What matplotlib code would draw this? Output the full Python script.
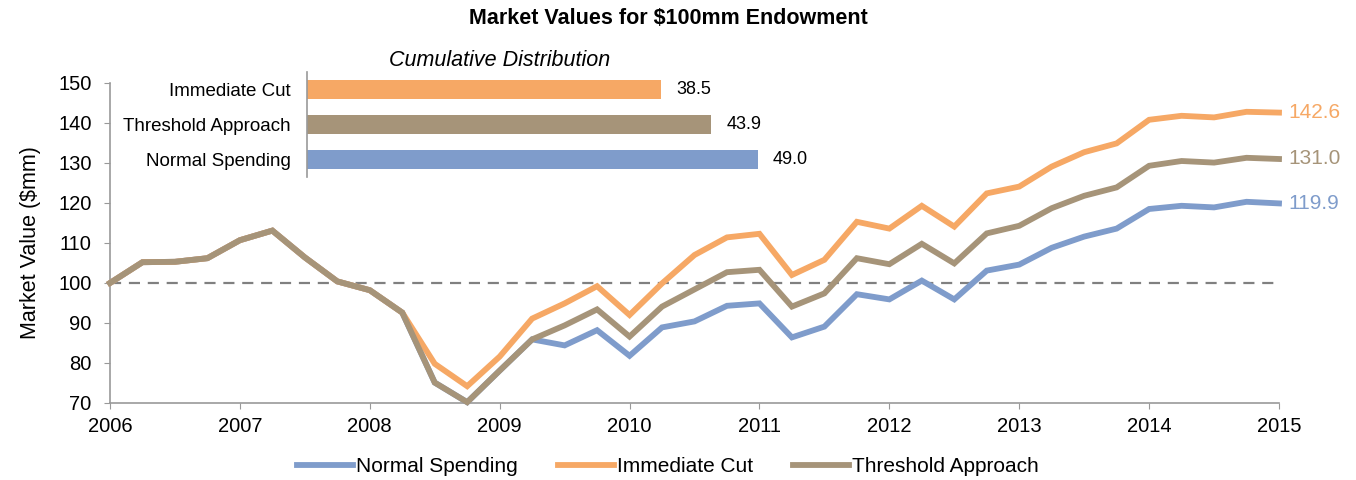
import numpy as np
import matplotlib
matplotlib.use("Agg")
import matplotlib.pyplot as plt

plt.rcParams['font.family'] = ['Liberation Sans', 'DejaVu Sans']

# dados trimestrais 2006-2015
anos = [2006, 2007, 2008, 2009, 2010, 2011, 2012, 2013, 2014, 2015]
trimestres = 2006 + np.arange(37) * 0.25

normal = [100.0, 105.2, 105.3, 106.2, 110.7, 113.1, 106.4, 100.4, 98.2, 92.6,
          75.1, 70.2, 78.1, 85.9, 84.4, 88.2, 81.8, 88.9, 90.4, 94.3,
          94.9, 86.4, 89.1, 97.2, 95.9, 100.6, 95.9, 103.1, 104.6, 108.8,
          111.6, 113.6, 118.5, 119.3, 118.9, 120.3, 119.9]
imediato = [100.0, 105.2, 105.3, 106.2, 110.7, 113.1, 106.4, 100.4, 98.2, 92.6,
            79.8, 74.2, 81.6, 91.1, 94.9, 99.2, 92.0, 99.9, 107.0, 111.4,
            112.3, 102.0, 105.8, 115.3, 113.6, 119.3, 114.1, 122.4, 124.1, 129.1,
            132.7, 134.9, 140.8, 141.8, 141.4, 142.8, 142.6]
limiar = [100.0, 105.2, 105.3, 106.2, 110.7, 113.1, 106.4, 100.4, 98.2, 92.6,
          75.1, 70.2, 78.1, 85.9, 89.4, 93.4, 86.6, 94.1, 98.4, 102.7,
          103.3, 94.1, 97.4, 106.2, 104.7, 109.8, 104.9, 112.4, 114.3, 118.7,
          121.8, 123.9, 129.3, 130.5, 130.1, 131.3, 131.0]

nomes = ["Normal Spending", "Immediate Cut", "Threshold Approach"]
cores = ["#7F9CCB", "#F6A865", "#A69479"]

# grafico de barras (distribuicao acumulada)
barras_nomes = ["Immediate Cut", "Threshold Approach", "Normal Spending"]
barras_valores = [38.5, 43.9, 49.0]
barras_cores = ["#F6A865", "#A69479", "#7F9CCB"]

fig = plt.figure(figsize=(13.56, 4.8), dpi=100)
ax = fig.add_axes([110 / 1356, 77 / 480, 1169 / 1356, 320 / 480])

for serie, nome, cor in zip([normal, imediato, limiar], nomes, cores):
    ax.plot(trimestres, serie, color=cor, lw=4.2, label=nome,
            solid_joinstyle='miter', clip_on=False, zorder=3)
ax.axhline(100, color="#808080", lw=1.6, dashes=(5, 3.5), zorder=2)

ax.set_xlim(2006, 2015)
ax.set_ylim(70, 150)
ax.set_xticks(anos)
ax.set_yticks(range(70, 151, 10))
ax.tick_params(labelsize=14.5, length=4.3, color="#999999", direction='out', pad=6)
ax.tick_params(axis='y', pad=9)
ax.set_ylabel("Market Value ($mm)", fontsize=15.5, labelpad=12)
for lado in ["top", "right"]:
    ax.spines[lado].set_visible(False)
for lado in ["left", "bottom"]:
    ax.spines[lado].set_color("#999999")
    ax.spines[lado].set_linewidth(1.2)

# rotulos no fim das linhas
for serie, cor in zip([imediato, limiar, normal], [cores[1], cores[2], cores[0]]):
    ax.annotate(f"{serie[-1]:.1f}", (trimestres[-1], serie[-1]), xytext=(7, 0),
                textcoords='offset points', va='center', ha='left',
                fontsize=15, color=cor, annotation_clip=False)

fig.text(668 / 1356, 1 - 18 / 480, "Market Values for $100mm Endowment",
         ha='center', va='center', fontsize=15.5, fontweight='bold')

fig.legend(loc='center', bbox_to_anchor=(668 / 1356, 1 - 467 / 480), ncol=3,
           frameon=False, fontsize=15, handlelength=2.7, handletextpad=0.15,
           columnspacing=1.9)

# eixo pequeno das barras
axb = fig.add_axes([307 / 1356, 1 - 177 / 480, 552 / 1356, 105 / 480])
pos = [2, 1, 0]
axb.barh(pos, barras_valores, height=0.53, color=barras_cores)
axb.set_xlim(0, 60)
axb.set_ylim(-0.5, 2.5)
axb.set_yticks(pos)
axb.set_yticklabels(barras_nomes, fontsize=13.5)
axb.tick_params(left=False, bottom=False, labelbottom=False, pad=8)
for lado in ["top", "right", "bottom"]:
    axb.spines[lado].set_visible(False)
axb.spines["left"].set_color("#999999")
axb.spines["left"].set_linewidth(1.2)
axb.patch.set_alpha(0)
for p, v in zip(pos, barras_valores):
    axb.annotate(f"{v:.1f}", (v, p), xytext=(11, 0), textcoords='offset points',
                 va='center', ha='left', fontsize=13)
axb.set_title("Cumulative Distribution", fontsize=15.5, style='italic', pad=4,
              x=(500 - 307) / 552)

fig.savefig("out.png", dpi=100)
